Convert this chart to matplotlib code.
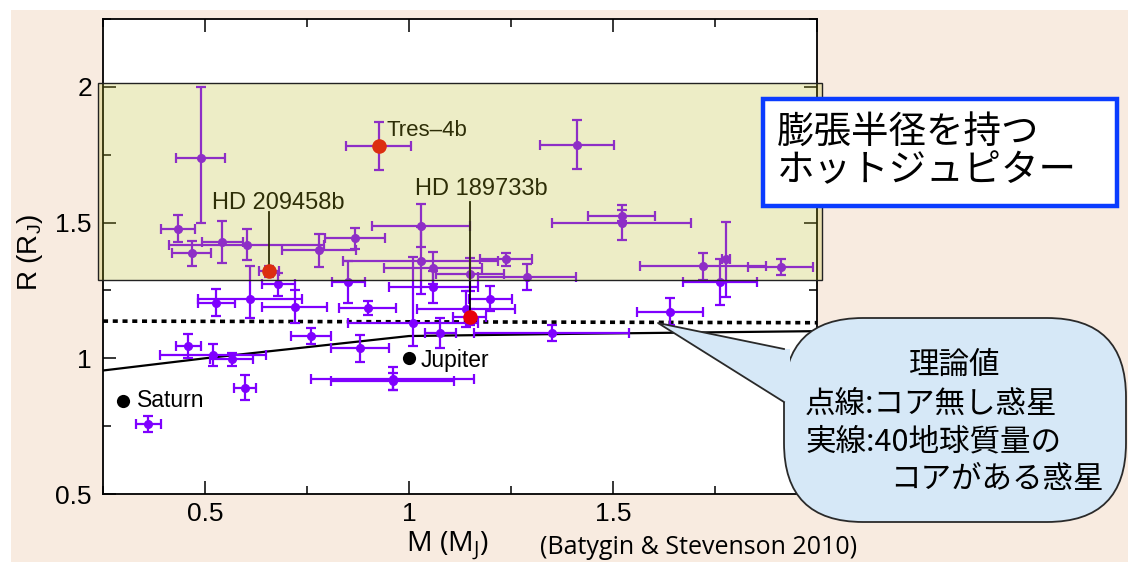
import matplotlib
matplotlib.use("Agg")
import matplotlib.pyplot as plt
from matplotlib.patches import Rectangle, FancyBboxPatch, Polygon
from matplotlib.lines import Line2D
from matplotlib.ticker import FixedLocator

plt.rcParams['font.family'] = ['Liberation Sans', 'Noto Sans CJK JP', 'DejaVu Sans']

# observed planets (Batygin & Stevenson 2010)
mass = [0.489, 0.433, 0.467, 0.542, 0.602, 0.779, 0.868, 1.411, 1.029, 1.029,
        1.058, 1.06, 0.851, 1.01, 0.899, 0.88, 0.96, 0.96, 1.077, 1.199,
        1.14, 1.35, 1.29, 1.237, 1.149, 1.521, 1.521, 1.721, 1.777, 1.911,
        1.762, 1.64, 0.528, 0.61, 0.68, 0.72, 0.459, 0.52, 0.565, 0.598,
        0.361, 0.759]
radius = [1.738, 1.478, 1.387, 1.428, 1.419, 1.398, 1.442, 1.787, 1.489, 1.36,
          1.333, 1.262, 1.28, 1.13, 1.186, 1.037, 0.925, 0.915, 1.094, 1.219,
          1.182, 1.094, 1.30, 1.364, 1.309, 1.526, 1.499, 1.339, 1.364, 1.337,
          1.28, 1.172, 1.205, 1.22, 1.272, 1.19, 1.045, 1.011, 0.996, 0.892,
          0.757, 1.082]
mass_err = [0.06, 0.042, 0.047, 0.05, 0.19, 0.09, 0.073, 0.091, 0.12, 0.19,
            0.12, 0.108, 0.04, 0.16, 0.07, 0.072, 0.2, 0.15, 0.038, 0.053,
            0.12, 0.19, 0.12, 0.064, 0.083, 0.082, 0.17, 0.155, 0.01, 0.08,
            0.09, 0.08, 0.045, 0.127, 0.04, 0.08, 0.03, 0.13, 0.053, 0.026,
            0.031, 0.049]
radius_err_lo = [0.24, 0.051, 0.046, 0.077, 0.056, 0.06, 0.038, 0.09, 0.08, 0.124,
                 0.06, 0.06, 0.078, 0.085, 0.025, 0.049, 0.043, 0.03, 0.055, 0.046,
                 0.067, 0.03, 0.047, 0.025, 0.06, 0.02, 0.065, 0.049, 0.139, 0.03,
                 0.085, 0.049, 0.049, 0.071, 0.043, 0.06, 0.044, 0.041, 0.024, 0.046,
                 0.029, 0.029]
radius_err_hi = [0.26, 0.051, 0.046, 0.077, 0.056, 0.06, 0.038, 0.09, 0.08, 0.124,
                 0.06, 0.06, 0.078, 0.243, 0.025, 0.049, 0.043, 0.03, 0.055, 0.046,
                 0.067, 0.03, 0.047, 0.025, 0.06, 0.02, 0.065, 0.049, 0.139, 0.03,
                 0.085, 0.049, 0.049, 0.119, 0.043, 0.06, 0.044, 0.041, 0.024, 0.046,
                 0.029, 0.029]

# highlighted planets
named = ['HD 209458b', 'Tres\u20134b', 'HD 189733b']
named_mass = [0.657, 0.926, 1.149]
named_radius = [1.32, 1.781, 1.153]
named_mass_err = [0.025, 0.08, 0.04]
named_radius_err = [0.02, 0.089, 0.03]

# solar system
solar = ['Saturn', 'Jupiter']
solar_mass = [0.299, 1.0]
solar_radius = [0.843, 1.0]

# theory curves
theory_mass_nocore = [0.25, 2.0]
theory_r_nocore = [1.137, 1.131]
theory_mass_core = [0.25, 0.5, 1.0, 1.4, 2.0]
theory_r_core = [0.955, 1.0, 1.082, 1.09, 1.1]

W, H = 1128, 562
PURPLE = '#7f00ff'


def fig_box(x0, y0, x1, y1):
    # pixel box (top-left origin) -> figure fraction
    return x0 / W, 1 - y1 / H, (x1 - x0) / W, (y1 - y0) / H


fig = plt.figure(figsize=(W / 100, H / 100), dpi=100)
fig.patch.set_facecolor('white')
bx, by, bw, bh = fig_box(11, 10, W, H)
fig.add_artist(Rectangle((bx, by), bw, bh, transform=fig.transFigure,
                         facecolor='#f8ebe0', edgecolor='none', zorder=-5))

ax = fig.add_axes([103 / W, (H - 494) / H, 714 / W, 475 / H])
ax.set_facecolor('white')
ax.set_xlim(0.25, 2.0)
ax.set_ylim(0.5, 2.25)

ax.plot(theory_mass_nocore, theory_r_nocore, color='black', lw=2.6,
        linestyle=(0, (1.4, 1.3)), dash_capstyle='butt', zorder=2)
ax.plot(theory_mass_core, theory_r_core, color='black', lw=1.6, zorder=2)

ax.errorbar(mass, radius, xerr=mass_err, yerr=[radius_err_lo, radius_err_hi],
            fmt='o', color=PURPLE, ecolor=PURPLE, markersize=5.5, elinewidth=1.6,
            capsize=3.3, capthick=1.6, zorder=3)
ax.errorbar(named_mass, named_radius, xerr=named_mass_err, yerr=named_radius_err,
            fmt='none', ecolor=PURPLE, elinewidth=1.6, capsize=3.3, capthick=1.6, zorder=3)
ax.plot(named_mass, named_radius, 'o', color='#e8000b', markersize=10.5,
        markeredgewidth=0, zorder=4)
ax.plot(solar_mass, solar_radius, 'o', color='black', markersize=9.5,
        markeredgewidth=0, zorder=4)

# labels
ax.text(0.333, 0.82, solar[0], fontsize=16.5, ha='left', va='baseline', zorder=4)
ax.text(1.029, 0.968, solar[1], fontsize=16.5, ha='left', va='baseline', zorder=4)
ax.text(0.517, 1.551, named[0], fontsize=17, ha='left', va='baseline', zorder=4)
ax.plot([named_mass[0]] * 2, [1.538, named_radius[0]], color='black', lw=1.3, zorder=3.5)
ax.text(0.946, 1.82, named[1], fontsize=16, ha='left', va='baseline', zorder=4)
ax.text(1.015, 1.603, named[2], fontsize=17, ha='left', va='baseline', zorder=4)
ax.plot([named_mass[2]] * 2, [1.574, named_radius[2]], color='black', lw=1.3, zorder=3.5)

# inflated-radius band
ax.add_patch(Rectangle((0.238, 1.29), 2.012 - 0.238, 2.015 - 1.29,
                       facecolor=(187 / 255, 187 / 255, 31 / 255, 0.25),
                       edgecolor='#222222', lw=1.0, clip_on=False, zorder=6))

# axes styling
for sp in ax.spines.values():
    sp.set_linewidth(1.3)
ax.xaxis.set_major_locator(FixedLocator([0.5, 1.0, 1.5, 2.0]))
ax.xaxis.set_minor_locator(FixedLocator([0.25, 0.75, 1.25, 1.75]))
ax.yaxis.set_major_locator(FixedLocator([0.5, 1.0, 1.5, 2.0]))
ax.yaxis.set_minor_locator(FixedLocator([0.75, 1.25, 1.75, 2.25]))
ax.set_xticklabels(['0.5', '1', '1.5', ''])
ax.set_yticklabels(['0.5', '1', '1.5', '2'])
ax.tick_params(which='both', direction='in', top=True, right=True, width=1.1)
ax.tick_params(which='major', length=9.5, labelsize=19, pad=6)
ax.tick_params(axis='y', which='major', pad=8)
ax.tick_params(which='minor', length=6)

fig.text(30 / W, 1 - 252 / H, 'R (R$\\mathregular{_J}$)', fontsize=20,
         rotation=90, ha='center', va='center')
fig.text(447 / W, 1 - 546 / H, 'M (M$\\mathregular{_J}$)', fontsize=20.5,
         family='Open Sans', ha='center', va='center')
fig.text(540 / W, 1 - 548 / H, '(Batygin & Stevenson 2010)', fontsize=18,
         family='Open Sans', ha='left', va='center')

# title box
x, y, w, h = fig_box(763, 99, 1117, 206)
fig.add_artist(Rectangle((x, y), w, h, transform=fig.transFigure, facecolor='white',
                         edgecolor='#0a3cff', lw=3.2, zorder=10))
jp = ['Noto Sans CJK JP', 'DejaVu Sans']
fig.text(777 / W, 1 - 132 / H, '膨張半径を持つ', fontsize=27, family=jp,
         ha='left', va='center', zorder=11)
fig.text(777 / W, 1 - 171 / H, 'ホットジュピター', fontsize=27, family=jp,
         ha='left', va='center', zorder=11)

# callout bubble
x, y, w, h = fig_box(784, 318, 1126, 522)
bubble = FancyBboxPatch((x, y), w, h, transform=fig.transFigure,
                        boxstyle='round,pad=0,rounding_size=0.07',
                        mutation_aspect=W / H,
                        facecolor='#d6e8f7', edgecolor='#2a2a2a', lw=1.3, zorder=10)
fig.add_artist(bubble)
tip = (658 / W, 1 - 323 / H)
base_top = (784 / W, 1 - 349 / H)
base_bot = (784 / W, 1 - 402 / H)
fig.add_artist(Polygon([tip, base_top, (790 / W, base_top[1]), (790 / W, base_bot[1]), base_bot],
                       closed=True, transform=fig.transFigure, facecolor='#d6e8f7',
                       edgecolor='none', zorder=11))
fig.add_artist(Line2D([base_top[0], tip[0], base_bot[0]], [base_top[1], tip[1], base_bot[1]],
                      transform=fig.transFigure, color='#2a2a2a', lw=1.3, zorder=12))
fig.text(955 / W, 1 - 365 / H, '理論値', fontsize=22, family=jp, ha='center', va='center', zorder=13)
fig.text(805 / W, 1 - 404 / H, '点線:コア無し惑星', fontsize=22, family=jp, ha='left', va='center', zorder=13)
fig.text(805 / W, 1 - 442 / H, '実線:40地球質量の', fontsize=22, family=jp, ha='left', va='center', zorder=13)
fig.text(890 / W, 1 - 480 / H, 'コアがある惑星', fontsize=22, family=jp, ha='left', va='center', zorder=13)

fig.savefig('out.png', dpi=100)
